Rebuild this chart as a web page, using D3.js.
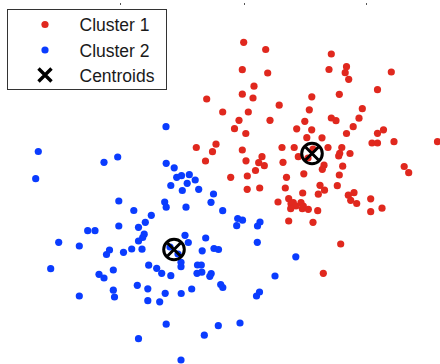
<!DOCTYPE html>
<html>
<head>
<meta charset="utf-8">
<script src="https://cdn.jsdelivr.net/npm/d3@7"></script>
<style>
  html, body { margin: 0; padding: 0; background: #fff; }
  svg { display: block; }
  text { font-family: Arial, "Liberation Sans", sans-serif; }
</style>
</head>
<body>
<div id="chart"></div>
<script>
// data (plot units)
const cluster1X = [24.37, 26.57, 24.23, 26.77, 25.40, 24.23, 25.30, 20.67, 27.92, 22.27, 24.83, 23.90, 27.00, 23.45, 29.67, 24.58,
  33.13, 32.90, 34.65, 34.52, 34.87, 39.13, 31.18, 33.93, 37.75, 30.93, 36.23, 30.48, 33.13, 33.60, 35.90, 31.17, 35.32, 38.35,
  37.75, 34.65, 30.68, 32.20, 37.20, 37.75, 39.40, 43.75, 19.63, 21.60, 21.25, 20.55, 24.23, 24.60, 26.20, 25.87, 26.43, 25.55,
  23.07, 24.73, 25.97, 24.72, 28.20, 29.42, 28.30, 28.65, 28.53, 27.80, 28.87, 29.10, 29.33, 29.60, 29.07, 30.10, 30.23, 30.33,
  30.83, 31.77, 28.87, 31.30, 30.27, 32.00, 32.45, 31.83, 33.73, 34.83, 35.07, 35.40, 35.67, 37.07, 37.07, 38.20, 34.07, 32.33,
  32.80, 34.18, 33.97, 33.87, 35.00, 32.40, 32.23, 34.27, 33.93, 30.38, 40.42, 40.87, 29.83, 31.30, 30.80];
const cluster1Y = [32.17, 31.45, 29.43, 29.10, 27.78, 26.98, 26.60, 26.50, 25.88, 25.20, 25.20, 24.37, 24.37, 23.53, 23.52, 23.05,
  31.00, 29.45, 29.73, 29.13, 28.47, 29.20, 26.72, 26.97, 27.43, 25.42, 25.53, 24.27, 24.60, 24.33, 24.58, 23.42, 23.73, 23.42,
  23.07, 23.05, 22.63, 22.62, 22.10, 22.10, 22.23, 22.23, 21.65, 21.98, 21.23, 20.30, 21.40, 20.32, 20.73, 20.13, 19.83, 19.35,
  18.67, 18.80, 17.60, 17.47, 21.65, 21.65, 20.17, 18.67, 17.60, 16.20, 16.53, 16.03, 16.13, 15.80, 15.53, 16.13, 15.53, 15.80,
  15.47, 15.33, 14.30, 14.17, 17.10, 17.87, 17.38, 16.98, 17.83, 16.88, 16.37, 17.13, 16.05, 16.52, 15.23, 15.58, 12.00, 9.07,
  21.65, 21.65, 21.07, 20.80, 21.05, 19.88, 19.47, 19.78, 18.90, 19.02, 19.75, 19.13, 20.73, 21.50, 20.60];

const cluster2X = [3.83, 3.57, 10.40, 11.77, 16.62, 17.42, 17.67, 18.15, 18.93, 19.52, 18.72, 17.08, 18.23, 19.87, 21.35, 21.10,
  16.47, 16.62, 18.60, 22.27, 23.77, 24.25, 23.67, 26.00, 25.75, 20.57, 18.50, 18.83, 25.73, 21.40, 21.85, 20.22, 11.88, 13.38,
  15.13, 14.53, 13.85, 11.88, 8.77, 9.50, 14.42, 14.27, 13.85, 5.87, 7.93, 10.95, 10.65, 12.35, 13.17, 14.20, 5.07, 7.93, 9.90,
  10.40, 11.33, 11.33, 11.45, 13.73, 14.78, 14.87, 15.67, 14.78, 15.97, 13.85, 16.17, 17.08, 18.10, 18.10, 19.75, 20.13, 19.70,
  20.18, 21.12, 20.98, 22.07, 22.28, 19.17, 18.12, 16.52, 27.50, 25.95, 25.65, 29.58, 16.62, 20.43, 21.83, 24.00, 18.10, 16.60,
  17.00, 17.80];
const cluster2Y = [21.25, 18.53, 20.17, 20.70, 20.07, 19.62, 18.67, 18.83, 18.93, 18.40, 18.07, 17.85, 17.35, 17.47, 17.00, 16.17,
  16.20, 15.68, 15.68, 15.33, 14.55, 14.38, 13.83, 14.20, 13.80, 12.60, 12.87, 12.15, 12.17, 11.55, 11.45, 11.32, 16.30, 15.35,
  14.87, 14.17, 13.67, 13.80, 13.33, 13.33, 12.98, 12.65, 12.30, 12.17, 11.80, 11.40, 10.95, 11.17, 11.50, 11.48, 9.53, 6.80, 8.97,
  8.60, 9.40, 7.38, 6.70, 7.87, 7.52, 9.88, 9.57, 6.33, 6.22, 2.53, 9.07, 8.83, 9.73, 10.17, 9.90, 9.90, 9.07,
  9.18, 9.05, 8.77, 7.95, 7.65, 7.50, 7.05, 7.07, 8.80, 7.20, 6.80, 10.72, 3.98, 2.88, 3.83, 4.10, 0.40, 23.73,
  11.70, 11.00];

const centroidX = [31.20, 17.40];
const centroidY = [21.05, 11.45];

const topTicks = [12.0, 24.4, 36.6];
const legendLabels = ["Cluster 1", "Cluster 2", "Centroids"];

const width = 440, height = 364;
const red = "#e0281e", blue = "#0a3cff";
const dotR = 3.6;

const svg = d3.select("#chart").append("svg")
  .attr("width", width)
  .attr("height", height);

const x = d3.scaleLinear().domain([0, 44]).range([0, width]);
const y = d3.scaleLinear().domain([0, 36.4]).range([height, 0]);

// faint top axis ticks
const axis = svg.append("g")
  .attr("transform", "translate(0,5)")
  .call(d3.axisTop(x).tickValues(topTicks).tickSize(2).tickFormat(""));
axis.select(".domain").remove();
axis.selectAll("line").attr("stroke", "#555");

// points
const c1 = cluster1X.map((v, i) => ({x: v, y: cluster1Y[i]}));
const c2 = cluster2X.map((v, i) => ({x: v, y: cluster2Y[i]}));

svg.append("g").selectAll("circle")
  .data(c1)
  .enter().append("circle")
  .attr("cx", d => x(d.x))
  .attr("cy", d => y(d.y))
  .attr("r", dotR)
  .attr("fill", red);

svg.append("g").selectAll("circle")
  .data(c2)
  .enter().append("circle")
  .attr("cx", d => x(d.x))
  .attr("cy", d => y(d.y))
  .attr("r", dotR)
  .attr("fill", blue);

// centroids: circle + x
const cents = svg.append("g").selectAll("g")
  .data(centroidX.map((v, i) => ({x: v, y: centroidY[i]})))
  .enter().append("g")
  .attr("transform", d => `translate(${x(d.x)},${y(d.y)})`);

cents.append("circle")
  .attr("r", 10.3)
  .attr("fill", "none")
  .attr("stroke", "#000")
  .attr("stroke-width", 3);

cents.append("path")
  .attr("d", "M-6.5,-6.5L6.5,6.5M-6.5,6.5L6.5,-6.5")
  .attr("stroke", "#000")
  .attr("stroke-width", 3);

// legend
const legend = svg.append("g");
legend.append("rect")
  .attr("x", 7.5).attr("y", 9.5)
  .attr("width", 159).attr("height", 80)
  .attr("fill", "#fff")
  .attr("stroke", "#333")
  .attr("stroke-width", 1);

const rowY = [24.5, 50, 75];
legendLabels.forEach((label, i) => {
  if (i < 2) {
    legend.append("circle")
      .attr("cx", 45).attr("cy", rowY[i])
      .attr("r", dotR)
      .attr("fill", i === 0 ? red : blue);
  } else {
    legend.append("path")
      .attr("transform", `translate(45,${rowY[i]})`)
      .attr("d", "M-6.5,-6.5L6.5,6.5M-6.5,6.5L6.5,-6.5")
      .attr("stroke", "#000")
      .attr("stroke-width", 3.4);
  }
  legend.append("text")
    .attr("x", 79.5)
    .attr("y", rowY[i] + 6.5)
    .attr("font-size", 17.5)
    .attr("fill", "#1a1a1a")
    .text(label);
});
</script>
</body>
</html>
